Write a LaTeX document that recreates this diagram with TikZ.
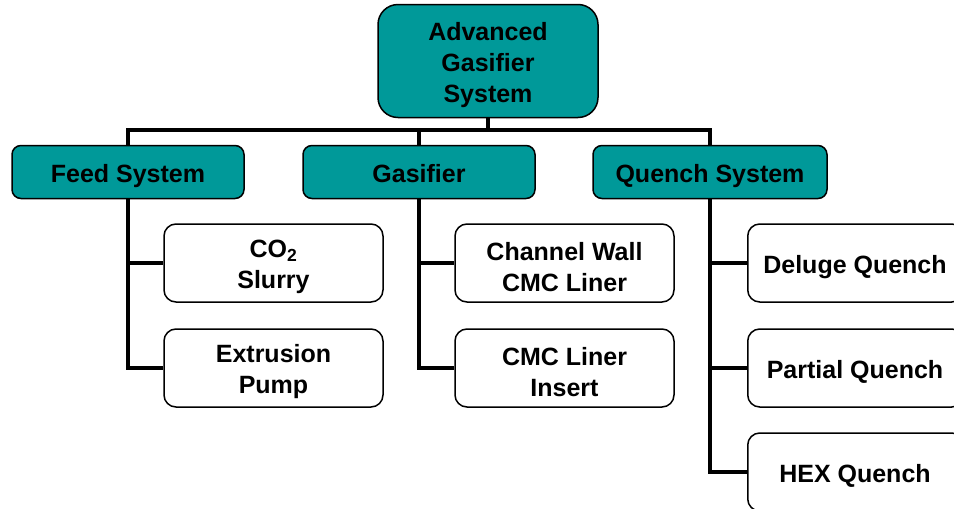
\documentclass[tikz,border=0pt]{standalone}
\usepackage{fontspec}
\setmainfont{Liberation Sans}
\definecolor{teal1}{RGB}{0,153,153}
\begin{document}
\begin{tikzpicture}[x=1pt,y=-1pt,
  every node/.style={font=\fontsize{25}{31}\selectfont\bfseries, align=center, inner sep=0pt},
  txt/.style={yshift=-4pt},
  tealbox/.style={draw=black, line width=1.5pt, fill=teal1, rounded corners=9pt},
  whitebox/.style={draw=black, line width=1.5pt, fill=white, rounded corners=12pt, minimum width=219pt, minimum height=78pt},
  conn/.style={line width=4pt, line join=miter}]
\useasboundingbox (0,0) rectangle (954,509);
\coordinate (bus) at (488,130);
\node[tealbox, rounded corners=20pt, minimum width=220pt, minimum height=113pt] (top) at (488,61) {};
\node[tealbox, minimum width=232pt, minimum height=53pt] (feed) at (128,172) {};
\node[tealbox, minimum width=232pt, minimum height=53pt] (gas) at (419,172) {};
\node[tealbox, minimum width=234pt, minimum height=53pt] (quench) at (710,172) {};
\node[whitebox] (co2) at (273.5,263) {};
\node[whitebox] (ep) at (273.5,368) {};
\node[whitebox] (cw) at (564.5,263) {};
\node[whitebox] (ci) at (564.5,368) {};
\node[whitebox, minimum width=216pt, anchor=west] (dq) at (747,263) {};
\node[whitebox, minimum width=216pt, anchor=west] (pq) at (747,368) {};
\node[whitebox, minimum width=216pt, anchor=west] (hq) at (747,472) {};
\node[txt] (topt) at (top.center) {Advanced\\Gasifier\\System};
\node[txt] (feedt) at (feed.center) {Feed System};
\node[txt] (gast) at (gas.center) {Gasifier\vphantom{y}};
\node[txt] (quencht) at (quench.center) {Quench System};
\node[txt] (co2t) at (co2.center) {CO\textsubscript{2}\\Slurry};
\node[txt] (ept) at (ep.center) {Extrusion\\Pump};
\node[txt] (cwt) at (cw.center) {Channel Wall\\CMC Liner};
\node[txt] (cit) at (ci.center) {CMC Liner\\Insert};
\node[txt] (dqt) at (855,263) {Deluge Quench};
\node[txt] (pqt) at (855,368) {Partial Quench\vphantom{y}};
\node[txt] (hqt) at (855,472) {HEX Quench\vphantom{y}};
\draw[conn] (top.south) -- (bus);
\draw[conn] (feed.north) |- (bus) -| (quench.north);
\draw[conn] (gas.north) -- (gas.north |- bus);
\draw[conn] (feed.south) |- (ep.west);
\draw[conn] (feed.south |- co2.west) -- (co2.west);
\draw[conn] (gas.south) |- (ci.west);
\draw[conn] (gas.south |- cw.west) -- (cw.west);
\draw[conn] (quench.south) |- (hq.west);
\draw[conn] (quench.south |- dq.west) -- (dq.west);
\draw[conn] (quench.south |- pq.west) -- (pq.west);
\end{tikzpicture}
\end{document}
